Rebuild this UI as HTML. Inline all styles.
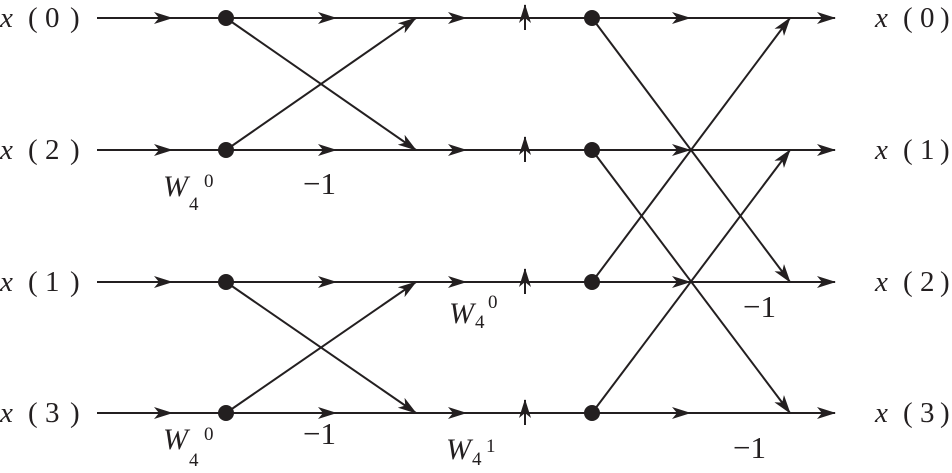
<!DOCTYPE html>
<html><head><style>body{margin:0;background:#fff}svg{display:block}text{font-family:"Liberation Serif","Times New Roman","DejaVu Serif",serif;fill:#231f20}</style></head><body>
<svg width="952" height="473" viewBox="0 0 952 473" xmlns="http://www.w3.org/2000/svg">
<defs>
<marker id="a" viewBox="0 0 20 12" refX="18" refY="6" markerWidth="20" markerHeight="12" markerUnits="userSpaceOnUse" orient="auto">
<path d="M0,0 L19,6 L0,12 L5,6 Z" fill="#231f20"/></marker>
</defs>
<g stroke="#231f20" stroke-width="2" fill="none">
<path d="M97,18 H835"/><path d="M97,150 H835"/><path d="M97,282 H835"/><path d="M97,413 H835"/>
</g>
<g stroke="#231f20" stroke-width="2" fill="none" marker-end="url(#a)">
<path d="M150,18 H172"/><path d="M310,18 H336"/><path d="M440,18 H466"/><path d="M660,18 H690"/><path d="M810,18 H835"/>
<path d="M150,150 H172"/><path d="M310,150 H336"/><path d="M440,150 H466"/><path d="M660,150 H690"/><path d="M810,150 H835"/>
<path d="M150,282 H172"/><path d="M310,282 H336"/><path d="M440,282 H466"/><path d="M660,282 H690"/><path d="M810,282 H835"/>
<path d="M150,413 H172"/><path d="M310,413 H336"/><path d="M440,413 H466"/><path d="M660,413 H690"/><path d="M810,413 H835"/>
<path d="M525,30 V5"/><path d="M525,162 V137"/><path d="M525,294 V269"/><path d="M525,425 V400"/>
<path d="M226,18 L416,150"/><path d="M226,150 L416,18"/>
<path d="M226,282 L416,413"/><path d="M226,413 L416,282"/>
<path d="M592,18 L790,282"/><path d="M592,150 L790,413"/><path d="M592,282 L790,18"/><path d="M592,413 L790,150"/>
</g>
<g fill="#231f20">
<circle cx="226" cy="18" r="8"/><circle cx="226" cy="150" r="8"/><circle cx="226" cy="282" r="8"/><circle cx="226" cy="413" r="8"/>
<circle cx="592" cy="18" r="8"/><circle cx="592" cy="150" r="8"/><circle cx="592" cy="282" r="8"/><circle cx="592" cy="413" r="8"/>
</g>
<g font-size="29">
<text y="27"><tspan x="0" font-style="italic">x</tspan><tspan x="28">(</tspan><tspan x="45">0</tspan><tspan x="70">)</tspan></text>
<text y="159"><tspan x="0" font-style="italic">x</tspan><tspan x="28">(</tspan><tspan x="45">2</tspan><tspan x="70">)</tspan></text>
<text y="291"><tspan x="0" font-style="italic">x</tspan><tspan x="28">(</tspan><tspan x="45">1</tspan><tspan x="70">)</tspan></text>
<text y="422"><tspan x="0" font-style="italic">x</tspan><tspan x="28">(</tspan><tspan x="45">3</tspan><tspan x="70">)</tspan></text>
<text y="27"><tspan x="875" font-style="italic">x</tspan><tspan x="903">(</tspan><tspan x="920">0</tspan><tspan x="940">)</tspan></text>
<text y="159"><tspan x="875" font-style="italic">x</tspan><tspan x="903">(</tspan><tspan x="920">1</tspan><tspan x="940">)</tspan></text>
<text y="291"><tspan x="875" font-style="italic">x</tspan><tspan x="903">(</tspan><tspan x="920">2</tspan><tspan x="940">)</tspan></text>
<text y="422"><tspan x="875" font-style="italic">x</tspan><tspan x="903">(</tspan><tspan x="920">3</tspan><tspan x="940">)</tspan></text>
</g>
<g font-size="31">
<text x="303" y="194">−1</text>
<text x="303" y="444">−1</text>
<text x="743" y="317">−1</text>
<text x="733" y="458">−1</text>
</g>
<g font-size="30" font-style="italic">
<text x="163" y="196">W</text><text x="449" y="323">W</text><text x="446" y="459">W</text><text x="163" y="449">W</text>
</g>
<g font-size="19">
<text x="189" y="210">4</text><text x="204" y="187">0</text>
<text x="475" y="328">4</text><text x="488" y="308">0</text>
<text x="472" y="465">4</text><text x="486" y="452">1</text>
<text x="189" y="466">4</text><text x="204" y="440">0</text>
</g>
</svg>
</body></html>
